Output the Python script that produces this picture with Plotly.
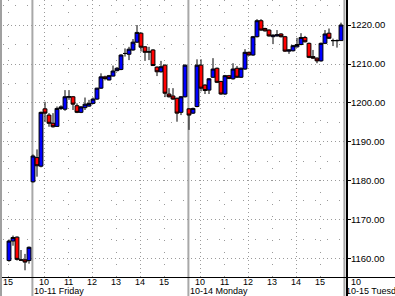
import plotly.graph_objects as go

# ---------------- data (10-minute bars, session 09:30-16:00) ----------------
BARS_PER_DAY = 39
SESSION_START_MIN = 9 * 60 + 30

day_labels = ["10-10 Thursday", "10-11 Friday", "10-14 Monday", "10-15 Tuesday"]
hour_labels = ["10", "11", "12", "13", "14", "15"]
price_ticks = [1160, 1170, 1180, 1190, 1200, 1210, 1220]
price_tick_text = ["1160.00", "1170.00", "1180.00", "1190.00", "1200.00", "1210.00", "1220.00"]

# 10-10 (last hour only is visible)
thu_times = ["15:00", "15:10", "15:20", "15:30", "15:40", "15:50"]
thu_open = [1159.6, 1164.6, 1165.6, 1159.8, 1159.8, 1159.6]
thu_high = [1165.0, 1166.0, 1165.8, 1162.3, 1161.3, 1163.2]
thu_low = [1159.3, 1163.4, 1159.6, 1159.5, 1157.1, 1158.8]
thu_close = [1164.6, 1165.5, 1159.9, 1159.7, 1159.2, 1163.0]

# 10-11 Friday (39 bars from 09:30)
fri_open = [1179.8, 1186.0, 1183.8, 1198.5, 1196.9, 1194.8, 1194.0, 1198.6, 1198.4, 1201.5,
            1201.6, 1199.3, 1197.6, 1198.8, 1199.2, 1199.9, 1201.0, 1203.8, 1206.7, 1205.9,
            1206.9, 1208.3, 1208.6, 1212.7, 1212.5, 1213.6, 1215.6, 1217.9, 1214.4, 1213.1,
            1213.6, 1209.2, 1208.0, 1209.7, 1202.3, 1201.8, 1201.2, 1197.6, 1201.6]
fri_high = [1186.8, 1188.1, 1197.8, 1200.3, 1197.4, 1197.4, 1199.1, 1199.4, 1203.3, 1203.3,
            1201.8, 1199.9, 1199.2, 1201.4, 1200.8, 1201.4, 1203.9, 1207.6, 1207.0, 1207.2,
            1209.6, 1209.2, 1212.5, 1214.0, 1214.4, 1216.4, 1220.0, 1218.1, 1214.6, 1214.4,
            1213.8, 1209.4, 1210.8, 1209.9, 1203.8, 1203.8, 1201.4, 1201.8, 1209.9]
fri_low = [1179.6, 1181.1, 1183.5, 1195.1, 1193.9, 1193.7, 1193.9, 1198.2, 1198.0, 1200.8,
           1198.2, 1197.4, 1197.4, 1198.2, 1199.0, 1199.7, 1200.8, 1203.6, 1205.8, 1205.8,
           1206.8, 1208.1, 1208.4, 1211.9, 1211.0, 1213.4, 1215.4, 1213.2, 1210.8, 1211.0,
           1209.5, 1206.9, 1207.8, 1201.5, 1201.4, 1200.8, 1195.2, 1196.9, 1201.4]
fri_close = [1186.4, 1183.9, 1197.6, 1197.4, 1194.8, 1193.9, 1198.6, 1199.0, 1201.6, 1201.6,
             1199.7, 1197.6, 1199.0, 1199.7, 1199.9, 1201.0, 1203.8, 1206.7, 1206.3, 1207.0,
             1208.2, 1208.9, 1212.3, 1212.7, 1213.8, 1215.6, 1218.1, 1214.3, 1213.0, 1213.1,
             1209.6, 1208.0, 1209.3, 1202.5, 1201.6, 1201.0, 1197.4, 1201.6, 1209.7]

# 10-14 Monday (39 bars from 09:30)
mon_open = [1198.5, 1197.4, 1199.1, 1209.7, 1204.6, 1203.3, 1206.6, 1208.9, 1205.5, 1202.3,
            1207.0, 1206.2, 1208.9, 1206.6, 1208.7, 1213.0, 1212.3, 1217.0, 1221.1, 1219.1,
            1218.7, 1217.0, 1217.2, 1217.7, 1217.0, 1213.3, 1213.4, 1214.4, 1215.0, 1216.8,
            1215.3, 1211.9, 1211.5, 1210.8, 1215.3, 1217.9, 1216.0, 1216.0, 1216.0]
mon_high = [1198.7, 1198.8, 1211.2, 1211.2, 1204.8, 1206.4, 1211.5, 1209.1, 1205.7, 1207.2,
            1207.2, 1210.2, 1209.5, 1209.1, 1213.8, 1213.2, 1217.2, 1221.5, 1221.5, 1219.3,
            1218.9, 1217.6, 1218.7, 1217.9, 1217.2, 1213.8, 1214.9, 1216.7, 1217.9, 1217.2,
            1215.5, 1213.6, 1211.7, 1215.5, 1218.7, 1219.1, 1216.5, 1216.3, 1220.6]
mon_low = [1193.1, 1197.2, 1198.9, 1203.0, 1202.3, 1202.3, 1206.4, 1205.1, 1202.1, 1202.1,
           1206.1, 1206.0, 1206.4, 1206.4, 1208.5, 1212.1, 1212.1, 1216.8, 1218.5, 1218.3,
           1217.0, 1215.1, 1217.0, 1216.8, 1213.1, 1212.6, 1213.2, 1214.2, 1214.8, 1215.5,
           1211.5, 1211.3, 1210.2, 1210.6, 1215.1, 1216.4, 1214.6, 1214.2, 1216.0]
mon_close = [1196.9, 1198.6, 1209.7, 1203.8, 1203.2, 1206.2, 1208.7, 1205.3, 1202.3, 1207.0,
             1206.3, 1208.7, 1206.6, 1208.9, 1213.0, 1212.3, 1217.0, 1221.1, 1218.7, 1218.5,
             1217.2, 1217.4, 1217.5, 1217.0, 1213.3, 1213.6, 1214.7, 1215.0, 1216.8, 1215.7,
             1211.7, 1211.5, 1210.8, 1215.3, 1217.7, 1216.6, 1216.0, 1216.0, 1220.0]

# ---------------- build continuous bar index ----------------
def to_min(t):
    h, m = t.split(":")
    return int(h) * 60 + int(m)

def bar_index(day_i, t):
    return (day_i - 1) * BARS_PER_DAY + (to_min(t) - SESSION_START_MIN) // 10

full_day_times = ["%02d:%02d" % divmod(SESSION_START_MIN + 10 * k, 60) for k in range(BARS_PER_DAY)]

x, o, h, l, c = [], [], [], [], []
for day_i, times, oo, hh, ll, cc in [
    (0, thu_times, thu_open, thu_high, thu_low, thu_close),
    (1, full_day_times, fri_open, fri_high, fri_low, fri_close),
    (2, full_day_times, mon_open, mon_high, mon_low, mon_close),
]:
    for t, a, b, d, e in zip(times, oo, hh, ll, cc):
        x.append(bar_index(day_i, t))
        o.append(a); h.append(b); l.append(d); c.append(e)

# ---------------- geometry ----------------
W, H = 395, 296
ML, MR, MT, MB = 3, 48, 0, 19
PW, PH = W - ML - MR, H - MT - MB
X_RANGE = [-7.5, 78.5]
Y_RANGE = [1155.38, 1226.41]

def xpaper(idx):
    return (idx - X_RANGE[0]) / (X_RANGE[1] - X_RANGE[0])

def ypaper_px(py):
    return (PH - py) / PH

def xpaper_px(px):
    return (px - ML) / PW

FONT = "Liberation Sans, Arial, sans-serif"
FS = 9.5
FS_X = 9

fig = go.Figure()
fig.add_trace(go.Candlestick(
    x=x, open=o, high=h, low=l, close=c,
    increasing=dict(fillcolor="#0000FF", line=dict(color="black", width=1)),
    decreasing=dict(fillcolor="#FF0000", line=dict(color="black", width=1)),
    whiskerwidth=0, showlegend=False, hoverinfo="skip",
))

# grid positions (hour starts)
major_x, minor_x = [], []
for day_i in range(4):
    for hr in range(10, 16):
        idx = bar_index(day_i, "%02d:00" % hr) - 0.25
        if X_RANGE[0] < idx < X_RANGE[1]:
            (major_x if hr % 2 == 0 else minor_x).append(idx)

grid_col = "#9a9a9a"
fig.update_layout(
    width=W, height=H,
    margin=dict(l=ML, r=MR, t=MT, b=MB),
    paper_bgcolor="white", plot_bgcolor="white",
    boxgap=0.04, boxgroupgap=0,
    font=dict(family=FONT, size=FS, color="black"),
    xaxis=dict(range=X_RANGE, rangeslider=dict(visible=False), showticklabels=False,
               ticks="", zeroline=False, showline=False,
               tickmode="array", tickvals=major_x,
               showgrid=True, gridcolor=grid_col, griddash="1px,3px", gridwidth=1,
               minor=dict(tickmode="array", tickvals=minor_x, showgrid=True,
                          gridcolor=grid_col, griddash="1px,11px", gridwidth=1)),
    yaxis=dict(range=Y_RANGE, side="right", tickmode="array", tickvals=price_ticks,
               ticktext=price_tick_text, ticks="outside", ticklen=3, tickcolor="black",
               tickwidth=1, zeroline=False, showline=False, ticklabelstandoff=-2,
               showgrid=True, gridcolor=grid_col, griddash="1px,3px", gridwidth=1,
               minor=dict(tickmode="array", tickvals=[p + 5 for p in price_ticks],
                          showgrid=True, gridcolor=grid_col, griddash="1px,11px",
                          gridwidth=1, ticks=""),
               tickfont=dict(size=FS)),
)

shapes = []
bottom = ypaper_px(H)
# day separators
for day_i in (1, 2, 3):
    sx = xpaper(bar_index(day_i, "09:30") - 0.15)
    shapes.append(dict(type="line", xref="paper", yref="paper", x0=sx, x1=sx, y0=bottom, y1=1,
                       line=dict(color="#a8a8a8", width=2), layer="below"))
# axis frame lines
shapes.append(dict(type="line", xref="paper", yref="paper", x0=xpaper_px(0), x1=xpaper_px(W),
                   y0=ypaper_px(PH + 0.5), y1=ypaper_px(PH + 0.5), line=dict(color="black", width=1)))
shapes.append(dict(type="line", xref="paper", yref="paper", x0=1, x1=1, y0=bottom, y1=1,
                   line=dict(color="black", width=2)))
shapes.append(dict(type="line", xref="paper", yref="paper", x0=xpaper_px(1), x1=xpaper_px(1),
                   y0=bottom, y1=1, line=dict(color="#a0a0a0", width=2)))
fig.update_layout(shapes=shapes)

# x labels
ann = []
hour_y = ypaper_px(281.6)
date_y = ypaper_px(291.0)
for day_i in range(4):
    hrs = hour_labels if day_i in (1, 2) else (["15"] if day_i == 0 else ["10"])
    for hl in hrs:
        idx = bar_index(day_i, hl + ":00") - 0.25
        ann.append(dict(x=xpaper(idx), y=hour_y, xref="paper", yref="paper", text=hl,
                        showarrow=False, xanchor="center", yanchor="middle", borderpad=0,
                        font=dict(size=FS_X)))
    if day_i >= 1:
        ann.append(dict(x=xpaper(bar_index(day_i, "09:30")), y=date_y, xref="paper", yref="paper",
                        text=day_labels[day_i], showarrow=False, xanchor="left", yanchor="middle",
                        borderpad=0, font=dict(size=FS_X)))
fig.update_layout(annotations=ann)

fig.write_html("out.html")
